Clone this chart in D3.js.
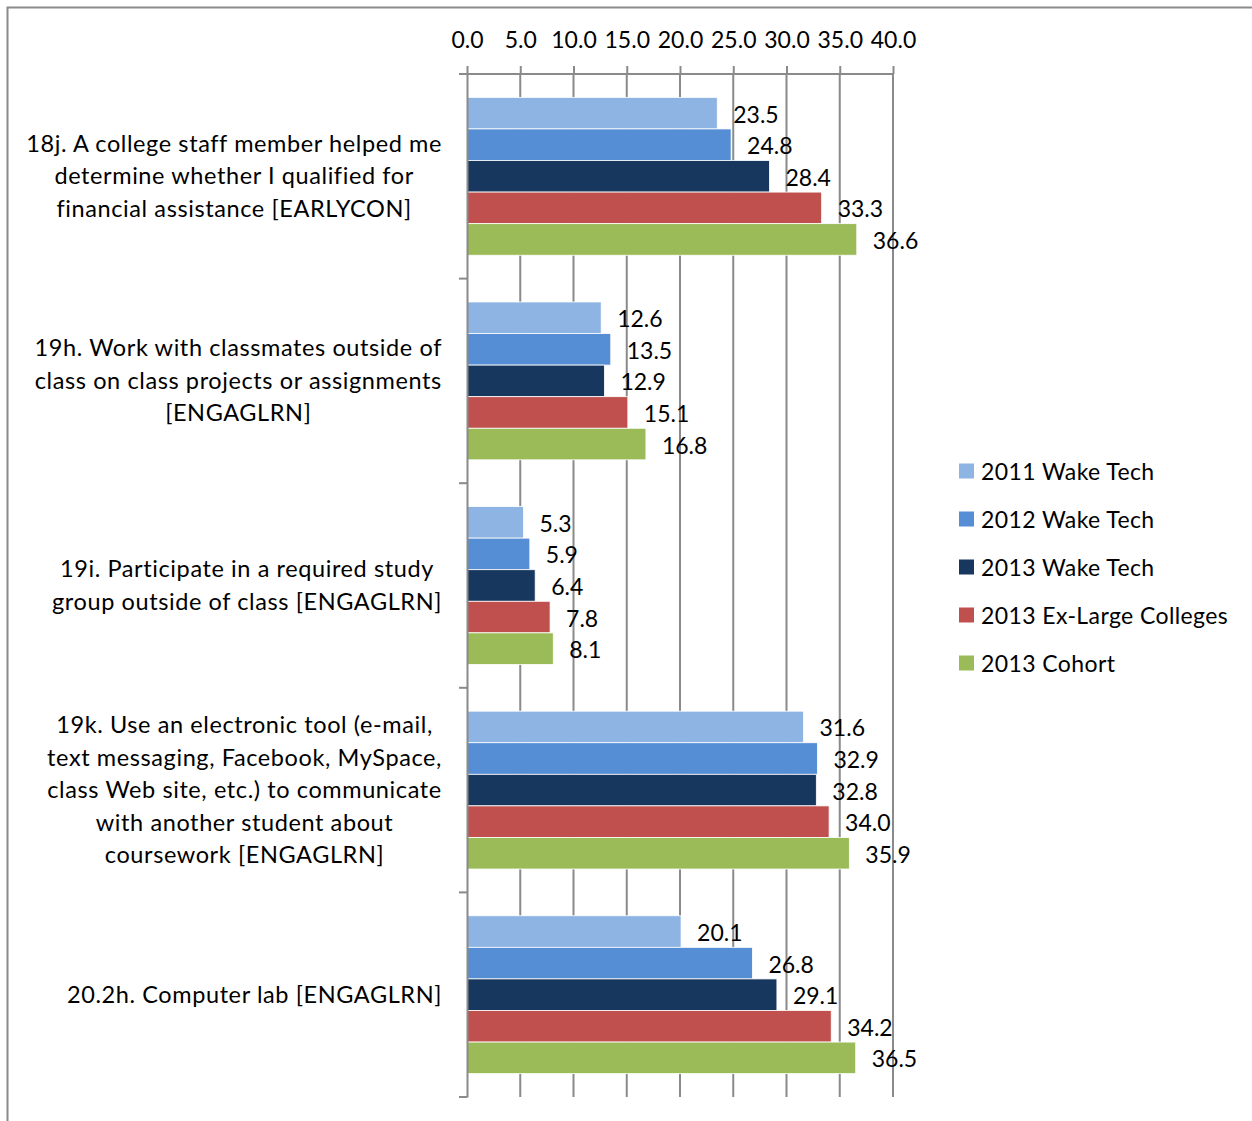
<!DOCTYPE html>
<html><head><meta charset="utf-8">
<script src="https://cdn.jsdelivr.net/npm/d3@7"></script>
<style>
html,body{margin:0;padding:0;background:#fff;}
svg{display:block;}
text{font-family:Lato, "Open Sans", sans-serif; fill:#000;}
</style></head>
<body>
<svg id="chart" width="1252" height="1121"></svg>
<script>
const categories = ["18j", "19h", "19i", "19k", "20.2h"];
const categoryLines = [
  ["18j. A college staff member helped me", "determine whether I qualified for", "financial assistance [EARLYCON]"],
  ["19h. Work with classmates outside of", "class on class projects or assignments", "[ENGAGLRN]"],
  ["19i. Participate in a required study", "group outside of class [ENGAGLRN]"],
  ["19k. Use an electronic tool (e-mail,", "text messaging, Facebook, MySpace,", "class Web site, etc.) to communicate", "with another student about", "coursework [ENGAGLRN]"],
  ["20.2h. Computer lab [ENGAGLRN]"]
];
const seriesNames = ["2011 Wake Tech", "2012 Wake Tech", "2013 Wake Tech", "2013 Ex-Large Colleges", "2013 Cohort"];
const seriesColors = ["#8EB4E3", "#558ED5", "#17375E", "#C0504D", "#9BBB59"];
const s2011 = [23.5, 12.6, 5.3, 31.6, 20.1];
const s2012 = [24.8, 13.5, 5.9, 32.9, 26.8];
const s2013 = [28.4, 12.9, 6.4, 32.8, 29.1];
const sExLarge = [33.3, 15.1, 7.8, 34.0, 34.2];
const sCohort = [36.6, 16.8, 8.1, 35.9, 36.5];
const xTicks = [0, 5, 10, 15, 20, 25, 30, 35, 40];

const seriesValues = [s2011, s2012, s2013, sExLarge, sCohort];
const svg = d3.select("#chart");
const W = 1252, H = 1121;
const FS = 23;

// outer border
svg.append("rect").attr("x", 7.5).attr("y", 7.5).attr("width", W + 20).attr("height", H + 20)
  .attr("fill", "none").attr("stroke", "#8a8a8a").attr("stroke-width", 2);

const x = d3.scaleLinear().domain([0, 40]).range([467, 893]);
const y = d3.scaleBand().domain(categories).range([74, 1097]).padding(0);
const yInner = d3.scaleBand().domain(seriesNames).range([0, y.bandwidth()]).paddingInner(0).paddingOuter(0.74);

// gridlines
svg.append("g").selectAll("line").data(xTicks.slice(1)).join("line")
  .attr("x1", d => x(d)).attr("x2", d => x(d))
  .attr("y1", 74).attr("y2", 1097)
  .attr("stroke", "#8a8a8a").attr("stroke-width", 2);

// bars
const groups = svg.append("g").selectAll("g").data(categories).join("g")
  .attr("transform", c => `translate(0,${y(c)})`);
groups.each(function(c, ci) {
  const g = d3.select(this);
  seriesNames.forEach((s, si) => {
    const v = seriesValues[si][ci];
    g.append("rect")
      .attr("x", x(0)).attr("y", yInner(s))
      .attr("width", x(v) - x(0)).attr("height", yInner.bandwidth())
      .attr("fill", seriesColors[si])
      .attr("stroke", "#fff").attr("stroke-width", 0.8);
  });
});

// top axis
const xAxis = d3.axisTop(x).tickValues(xTicks).tickFormat(d3.format(".1f")).tickSizeInner(8).tickSizeOuter(0).tickPadding(18);
const ax = svg.append("g").attr("transform", "translate(0,74)").call(xAxis);
ax.select(".domain").attr("stroke", "#8a8a8a").attr("stroke-width", 2).attr("d", `M${x(0) - 8},0H${x(40)}`);
ax.selectAll(".tick line").attr("stroke", "#8a8a8a").attr("stroke-width", 2);
ax.selectAll(".tick text").attr("font-family", "Lato").attr("font-size", FS).attr("fill", "#000");

// category axis
const yAxis = d3.axisLeft(y).tickValues([]).tickSizeOuter(0);
const ay = svg.append("g").attr("transform", `translate(${x(0)},0)`).call(yAxis);
ay.select(".domain").attr("stroke", "#8a8a8a").attr("stroke-width", 2);
const bounds = categories.map(c => y(c)).concat([y.range()[1]]);
svg.append("g").selectAll("line").data(bounds).join("line")
  .attr("x1", x(0) - 8).attr("x2", x(0)).attr("y1", d => d).attr("y2", d => d)
  .attr("stroke", "#8a8a8a").attr("stroke-width", 2);

// value labels
groups.each(function(c, ci) {
  const g = d3.select(this);
  seriesNames.forEach((s, si) => {
    const v = seriesValues[si][ci];
    g.append("text")
      .attr("x", x(v) + 16).attr("y", yInner(s) + yInner.bandwidth() / 2 + 9.5)
      .attr("font-size", FS).text(d3.format(".1f")(v));
  });
});

// category labels
const lineH = 32.5;
categories.forEach((c, ci) => {
  const lines = categoryLines[ci];
  const cy = y(c) + y.bandwidth() / 2;
  const g = svg.append("g");
  const texts = lines.map((l, li) => g.append("text")
    .attr("font-size", 23.5).attr("letter-spacing", 0.6).attr("text-anchor", "middle")
    .attr("y", cy + (li - (lines.length - 1) / 2) * lineH + 8).text(l));
  const maxW = d3.max(texts, t => t.node().getComputedTextLength());
  const cx = 442 - maxW / 2;
  texts.forEach(t => t.attr("x", cx));
});

// legend
const leg = svg.append("g").selectAll("g").data(seriesNames).join("g")
  .attr("transform", (d, i) => `translate(959,${471 + i * 48})`);
leg.append("rect").attr("x", 0).attr("y", -7.5).attr("width", 15).attr("height", 15)
  .attr("fill", (d, i) => seriesColors[i]);
leg.append("text").attr("x", 22).attr("y", 8.5).attr("font-size", FS).attr("letter-spacing", 0.4).text(d => d);
</script>
</body></html>
